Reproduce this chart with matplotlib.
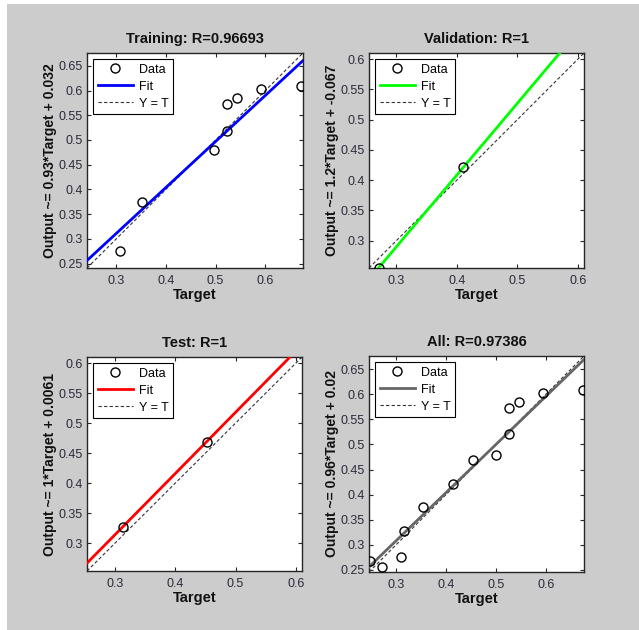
import numpy as np
import matplotlib
matplotlib.use('Agg')
import matplotlib.pyplot as plt
from matplotlib.patches import Rectangle

plt.rcParams['font.family'] = ['Liberation Sans', 'DejaVu Sans']

# data
train_t = [0.307, 0.352, 0.497, 0.523, 0.523, 0.543, 0.592, 0.672]
train_y = [0.276, 0.375, 0.479, 0.573, 0.519, 0.584, 0.603, 0.610]
val_t = [0.271, 0.411]
val_y = [0.255, 0.421]
test_t = [0.313, 0.452]
test_y = [0.327, 0.468]
all_t = [0.247, 0.272, 0.310, 0.315, 0.354, 0.413, 0.453, 0.500, 0.525, 0.526, 0.546, 0.593, 0.673]
all_y = [0.267, 0.255, 0.275, 0.327, 0.375, 0.421, 0.469, 0.479, 0.572, 0.520, 0.585, 0.603, 0.609]

# fitted lines (slope, intercept) as drawn
fit_slope = [0.93, 1.186, 1.02, 0.96]
fit_icept = [0.032, -0.066, 0.008, 0.02]

titles = ['Training: R=0.96693', 'Validation: R=1', 'Test: R=1', 'All: R=0.97386']
ylabels = ['Output ~= 0.93*Target + 0.032', 'Output ~= 1.2*Target + -0.067',
           'Output ~= 1*Target + 0.0061', 'Output ~= 0.96*Target + 0.02']
fit_colors = ['#0000ff', '#00ff00', '#ff0000', '#666666']
limits = [(0.241, 0.676), (0.255, 0.61), (0.254, 0.61), (0.246, 0.676)]
yticks = [np.arange(0.25, 0.66, 0.05), np.arange(0.3, 0.61, 0.05),
          np.arange(0.3, 0.61, 0.05), np.arange(0.25, 0.66, 0.05)]
xticks = [0.3, 0.4, 0.5, 0.6]

W, H = 639, 630
fig = plt.figure(figsize=(W / 100, H / 100), dpi=100, facecolor='white')
fig.patches.append(Rectangle((7 / W, 0), 1, (H - 4) / H, transform=fig.transFigure,
                             facecolor='#cccccc', edgecolor='none', zorder=-10))

# axes boxes in pixels: left, top, right, bottom
boxes = [(87, 53, 303, 268), (369, 53, 584, 268), (87, 357, 302, 571), (369, 356, 584, 572)]
data = [(train_t, train_y), (val_t, val_y), (test_t, test_y), (all_t, all_y)]

txt = '#262626'
for i in range(4):
    l, t, r, b = boxes[i]
    ax = fig.add_axes([l / W, 1 - b / H, (r - l) / W, (b - t) / H])
    tt, yy = data[i]
    lo, hi = limits[i]
    xs = np.array([lo, hi])
    ax.plot(tt, yy, 'o', mfc='none', mec='black', ms=6.5, mew=1, label='Data', zorder=4)
    ax.plot(xs, fit_slope[i] * xs + fit_icept[i], color=fit_colors[i], lw=2, label='Fit', zorder=3)
    ax.plot(xs, xs, '--', color='#333333', lw=0.8, dashes=(3, 2), label='Y = T', zorder=2)
    ax.set_xlim(lo, hi)
    ax.set_ylim(lo, hi)
    ax.set_xticks(xticks)
    ax.set_yticks(yticks[i])
    ax.set_xticklabels(['%g' % v for v in xticks])
    ax.set_yticklabels(['%g' % round(v, 2) for v in yticks[i]])
    ax.tick_params(direction='in', top=True, right=True, length=3, width=0.8,
                   labelsize=9, colors=txt, labelcolor='#2b2b3b')
    ax.tick_params(axis='x', pad=5)
    ax.tick_params(axis='y', pad=3)
    for s in ax.spines.values():
        s.set_color(txt)
        s.set_linewidth(1)
    ax.set_title(titles[i], fontsize=10.5, fontweight='bold', color='#111111', pad=7)
    ax.set_xlabel('Target', fontsize=10.5, fontweight='bold', color='#111111', labelpad=1)
    ax.set_ylabel(ylabels[i], fontsize=10, fontweight='bold', color='#111111', labelpad=1)
    leg = ax.legend(loc='upper left', fontsize=9, frameon=True, fancybox=False,
                    edgecolor='black', framealpha=1, borderaxespad=0.5,
                    handlelength=2.8, borderpad=0.35, labelspacing=0.4, handletextpad=0.5)
    leg.get_frame().set_linewidth(0.8)

fig.savefig('out.png', dpi=100, facecolor='white')
